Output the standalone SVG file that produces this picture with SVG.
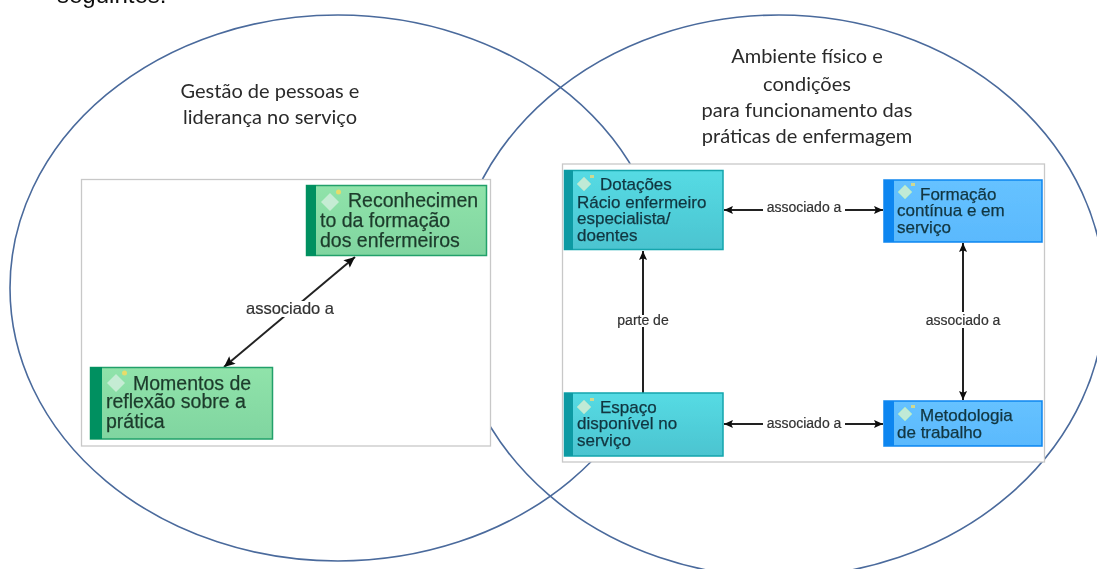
<svg xmlns="http://www.w3.org/2000/svg" width="1097" height="569" viewBox="0 0 1097 569">
<defs>
<marker id="ah" viewBox="0 0 10 10" refX="10" refY="5" markerWidth="10" markerHeight="9" markerUnits="userSpaceOnUse" orient="auto-start-reverse"><path d="M0 0.500L10 5L0 9.500L2 5Z" fill="#111"/></marker>
<marker id="ahb" viewBox="0 0 10 10" refX="10" refY="5" markerWidth="14" markerHeight="11" markerUnits="userSpaceOnUse" orient="auto-start-reverse"><path d="M0 0.500L10 5L0 9.500L2 5Z" fill="#111"/></marker>
<linearGradient id="gr" x1="0" y1="0" x2="0" y2="1"><stop offset="0" stop-color="#90e3aa"/><stop offset="1" stop-color="#80d5a0"/></linearGradient>
<linearGradient id="te" x1="0" y1="0" x2="0" y2="1"><stop offset="0" stop-color="#55dbe4"/><stop offset="1" stop-color="#4cc4d0"/></linearGradient>
<linearGradient id="bl" x1="0" y1="0" x2="0" y2="1"><stop offset="0" stop-color="#66c2ff"/><stop offset="1" stop-color="#5ab9fd"/></linearGradient>
<g id="ic"><path d="M0 -9L9 0L0 9L-9 0Z" fill="#c5ecd4" stroke="#a8e8bc"/><circle cx="8.500" cy="-10" r="2.500" fill="#e8dc6a"/></g>
<g id="ics"><path d="M0 -7L7 0L0 7L-7 0Z" fill="#c0ead6" stroke="#a0e4d0"/><rect x="6" y="-9" width="4" height="3" fill="#cfd890"/></g>
<filter id="soft" x="-2%" y="-2%" width="104%" height="104%"><feGaussianBlur stdDeviation="0.45"/></filter>
</defs>
<style>
text{font-family:"Liberation Sans",Arial,sans-serif;fill:#222}
.cap{font-family:Lato,"Open Sans",sans-serif;font-size:20px;text-anchor:middle;fill:#2a2a2a}
.top{font-size:24px;fill:#111}
.ell{fill:none;stroke:#4a6a9c;stroke-width:1.6}
.panel{fill:#fff;stroke:#c8c8c8;stroke-width:1.3}
.big{font-size:19.500px;fill:#1d3b2c;stroke:#1d3b2c;stroke-width:.25}
.mid{font-size:17px;fill:#123640;stroke:#123640;stroke-width:.25}
.lab{font-size:14px;text-anchor:middle;fill:#333;stroke:#333;stroke-width:.2}
.lab16{font-size:16.500px}
.conn{fill:none;stroke:#222;stroke-width:2;marker-start:url(#ah);marker-end:url(#ah)}
.bigc{marker-start:url(#ahb);marker-end:url(#ahb)}
.one{marker-start:none}
.halo{fill:#fff}
.soft{filter:url(#soft)}
</style>
<g class="soft"><text class="top" x="57" y="3">seguintes:</text></g>
<g id="circles">
<ellipse class="ell" cx="338" cy="288" rx="328" ry="273"/>
<ellipse class="ell" cx="779" cy="296" rx="326" ry="281"/>
</g>
<g class="soft">
<text class="cap" x="270" y="98">Gestão de pessoas e</text>
<text class="cap" x="270" y="124">liderança no serviço</text>
<text class="cap" x="807" y="63">Ambiente físico e</text>
<text class="cap" x="807" y="91">condições</text>
<text class="cap" x="807" y="117">para funcionamento das</text>
<text class="cap" x="807" y="143">práticas de enfermagem</text>
</g>
<rect class="panel" x="81.500" y="179.500" width="409" height="266.500"/>
<rect class="panel" x="562.500" y="164" width="482" height="298"/>
<g id="connectors" class="soft">
<path class="conn bigc" d="M355 257L224 367"/>
<path class="conn one" d="M643 393V251"/>
<path class="conn" d="M724 210H883"/>
<path class="conn" d="M724 424H883"/>
<path class="conn" d="M963 243V400"/>
<rect class="halo" x="245" y="301" width="90" height="16"/>
<rect class="halo" x="616" y="315" width="54" height="12"/>
<rect class="halo" x="763" y="201" width="82" height="14"/>
<rect class="halo" x="763" y="416" width="82" height="14"/>
<rect class="halo" x="923" y="312" width="80" height="16"/>
<text class="lab lab16" x="290" y="314">associado a</text>
<text class="lab" x="643" y="325">parte de</text>
<text class="lab" x="804" y="212">associado a</text>
<text class="lab" x="804" y="428">associado a</text>
<text class="lab" x="963" y="325">associado a</text>
</g>
<g id="n1" class="soft">
<rect x="306.500" y="185.500" width="180" height="70" fill="url(#gr)" stroke="#22a06a" stroke-width="1.500"/><rect x="306" y="185" width="10" height="71" fill="#009060"/>
<use href="#ic" x="330" y="202"/>
<text class="big" x="348" y="207">Reconhecimen</text><text class="big" x="320" y="227">to da formação</text><text class="big" x="320" y="247">dos enfermeiros</text>
</g>
<g id="n2" class="soft">
<rect x="90.500" y="367.500" width="182" height="71.500" fill="url(#gr)" stroke="#22a06a" stroke-width="1.500"/><rect x="90" y="367" width="12" height="72" fill="#009060"/>
<use href="#ic" x="116" y="383"/>
<text class="big" x="133" y="390">Momentos de</text><text class="big" x="106" y="408">reflexão sobre a</text><text class="big" x="106" y="428">prática</text>
</g>
<g id="n3" class="soft">
<rect x="564.500" y="170.500" width="158.500" height="79" fill="url(#te)" stroke="#16a5ad" stroke-width="1.500"/><rect x="564" y="170" width="9" height="80" fill="#0a9aa3"/>
<use href="#ics" x="584" y="184"/>
<text class="mid" x="600" y="190">Dotações</text><text class="mid" x="577" y="208">Rácio enfermeiro</text><text class="mid" x="577" y="224">especialista/</text><text class="mid" x="577" y="241">doentes</text>
</g>
<g id="n4" class="soft">
<rect x="884" y="180" width="158" height="62" fill="url(#bl)" stroke="#0a86f0" stroke-width="1.500"/><rect x="884" y="180" width="10" height="62" fill="#0a86f0"/>
<use href="#ics" x="905" y="192"/>
<text class="mid" x="920" y="200">Formação</text><text class="mid" x="897" y="216">contínua e em</text><text class="mid" x="897" y="233">serviço</text>
</g>
<g id="n5" class="soft">
<rect x="564.500" y="393" width="158.500" height="63" fill="url(#te)" stroke="#16a5ad" stroke-width="1.500"/><rect x="564" y="393" width="9" height="63" fill="#0a9aa3"/>
<use href="#ics" x="584" y="407"/>
<text class="mid" x="600" y="413">Espaço</text><text class="mid" x="577" y="429">disponível no</text><text class="mid" x="577" y="446">serviço</text>
</g>
<g id="n6" class="soft">
<rect x="884" y="401" width="158" height="45" fill="url(#bl)" stroke="#0a86f0" stroke-width="1.500"/><rect x="884" y="401" width="10" height="45" fill="#0a86f0"/>
<use href="#ics" x="905" y="414"/>
<text class="mid" x="920" y="421">Metodologia</text><text class="mid" x="897" y="438">de trabalho</text>
</g>
</svg>
